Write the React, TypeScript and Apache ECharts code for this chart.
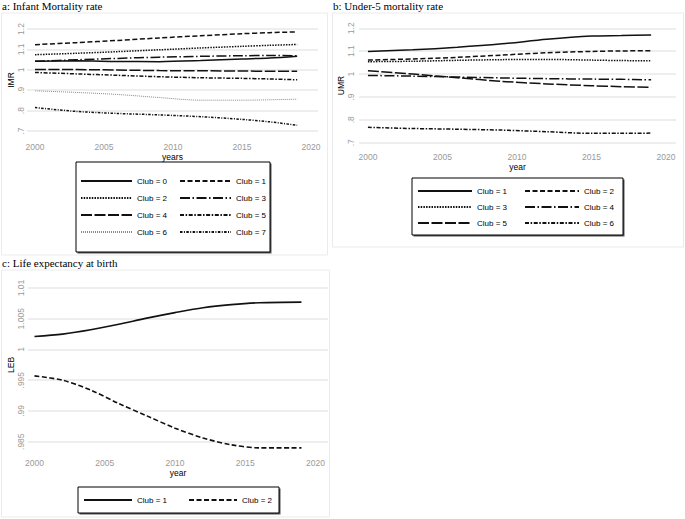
import React, { useEffect, useRef } from 'react';
import * as echarts from 'echarts';

// ---------- data ----------
const yearsA = [2000, 2003, 2006, 2009, 2012, 2015, 2017, 2019];
const imrClub0 = [1.042, 1.044, 1.041, 1.04, 1.045, 1.053, 1.058, 1.067];
const imrClub1 = [1.123, 1.133, 1.144, 1.156, 1.167, 1.177, 1.182, 1.186];
const imrClub2 = [1.074, 1.081, 1.089, 1.098, 1.107, 1.115, 1.12, 1.124];
const imrClub3 = [1.042, 1.049, 1.056, 1.062, 1.066, 1.069, 1.07, 1.069];
const imrClub4 = [1.002, 1.001, 0.999, 0.996, 0.995, 0.994, 0.993, 0.993];
const imrClub5 = [0.987, 0.98, 0.973, 0.966, 0.961, 0.958, 0.955, 0.951];
const imrClub6 = [0.897, 0.889, 0.879, 0.864, 0.851, 0.851, 0.853, 0.856];
const imrClub7 = [0.815, 0.796, 0.786, 0.779, 0.77, 0.757, 0.745, 0.728];

const yearsB = [2000, 2003, 2006, 2009, 2012, 2015, 2017, 2019];
const umrClub1 = [1.099, 1.106, 1.117, 1.132, 1.152, 1.166, 1.168, 1.171];
const umrClub2 = [1.061, 1.066, 1.073, 1.083, 1.093, 1.099, 1.101, 1.102];
const umrClub3 = [1.054, 1.056, 1.06, 1.063, 1.064, 1.061, 1.059, 1.058];
const umrClub4 = [0.994, 0.991, 0.987, 0.983, 0.98, 0.978, 0.977, 0.975];
const umrClub5 = [1.015, 1.0, 0.984, 0.968, 0.957, 0.949, 0.945, 0.942];
const umrClub6 = [0.767, 0.762, 0.759, 0.755, 0.748, 0.741, 0.741, 0.742];

const yearsC = [2000, 2002, 2004, 2006, 2008, 2010, 2012, 2014, 2016, 2019];
const lebClub1 = [1.0021, 1.0025, 1.0032, 1.0041, 1.0051, 1.006, 1.0068, 1.0073, 1.0076, 1.0077];
const lebClub2 = [0.9957, 0.995, 0.9934, 0.9912, 0.9892, 0.9872, 0.9856, 0.9845, 0.984, 0.984];

const xTicks = [2000, 2005, 2010, 2015, 2020];
const titles = ['a: Infant Mortality rate', 'b: Under-5 mortality rate', 'c: Life expectancy at birth'];
const yNames = ['IMR', 'UMR', 'LEB'];
const xNames = ['years', 'year', 'year'];

// ---------- styles ----------
const DASH: Record<string, any> = {
  solid: 'solid',
  dash: [5, 2.5],
  dot: [1.5, 1.2],
  longDashDot: [10, 2.5, 1.5, 2.5],
  longDash: [11, 2.5],
  dashDot: [4, 1.6, 1.5, 1.6],
  fineDot: [1, 1],
  shortDashDot: [2.5, 1.4, 1, 1.4],
};
const INK = '#111';
const SANS = '"Liberation Sans", Arial, sans-serif';
const SERIF = '"Liberation Serif", "Times New Roman", serif';

function line(panel: string, label: string, xs: number[], ys: number[], idx: number, dash: any, width = 1.5, color = INK) {
  return {
    type: 'line',
    name: panel + '|' + label,
    xAxisIndex: idx,
    yAxisIndex: idx,
    data: xs.map((x, i) => [x, ys[i]]),
    symbol: 'none',
    smooth: 0.3,
    clip: false,
    lineStyle: { color, width, type: dash },
    itemStyle: { color },
    z: 3,
  };
}

function fmtY(v: number) {
  let s = parseFloat(v.toFixed(4)).toString();
  if (s.startsWith('0.')) s = s.slice(1);
  return s;
}

function xAxis(idx: number, min: number, max: number, labelMargin: number, nameGap: number) {
  return {
    type: 'value',
    gridIndex: idx,
    min,
    max,
    name: xNames[idx],
    nameLocation: 'middle',
    nameGap,
    nameTextStyle: { fontFamily: SANS, fontSize: 8.5, color: '#000' },
    axisLine: { show: false },
    axisTick: { show: false },
    splitLine: { show: false },
    axisLabel: {
      customValues: xTicks,
      margin: labelMargin,
      fontFamily: SANS,
      fontSize: 8.5,
      color: '#9a9a9a',
      formatter: (v: number) => String(Math.round(v)),
    },
  };
}

function yAxis(idx: number, min: number, max: number, interval: number, labelMargin: number, nameGap: number) {
  return {
    type: 'value',
    gridIndex: idx,
    min,
    max,
    interval,
    name: yNames[idx],
    nameLocation: 'middle',
    nameGap,
    nameTextStyle: { fontFamily: SANS, fontSize: 8.5, color: '#000' },
    axisLine: { show: false },
    axisTick: { show: false },
    splitLine: { show: true, lineStyle: { color: '#e9e9e9', width: 1.5 } },
    axisLabel: {
      rotate: 90,
      margin: labelMargin,
      fontFamily: SANS,
      fontSize: 8.5,
      color: '#9a9a9a',
      formatter: fmtY,
    },
  };
}

function legendRow(panel: string, labels: string[], left: number, top: number, itemWidth: number, itemGap: number) {
  return {
    show: true,
    orient: 'horizontal',
    left,
    top,
    padding: 0,
    itemWidth,
    itemHeight: 10,
    itemGap,
    selectedMode: false,
    data: labels.map((l) => panel + '|' + l),
    formatter: (n: string) => n.split('|')[1],
    itemStyle: { opacity: 0 },
    textStyle: { fontFamily: SANS, fontSize: 8, color: '#000', lineHeight: 10 },
    z: 6,
  };
}

function legendBox(x: number, y: number, w: number, h: number) {
  return [
    { type: 'rect', z: 4, silent: true, shape: { x: x + 1.5, y: y + 1.5, width: w, height: h }, style: { fill: '#555' } },
    { type: 'rect', z: 5, silent: true, shape: { x, y, width: w, height: h }, style: { fill: '#fff', stroke: '#000', lineWidth: 1 } },
  ];
}

export default function App() {
  const ref = useRef<HTMLDivElement>(null);
  useEffect(() => {
    if (!ref.current) return;
    const chart = echarts.init(ref.current, null, { renderer: 'svg' });
    const option: any = {
      animation: false,
      backgroundColor: '#fff',
      grid: [
        { left: 27, top: 29, width: 291, height: 102 },
        { left: 359, top: 28.3, width: 317, height: 114.4 },
        { left: 28, top: 288, width: 300, height: 153.7 },
      ],
      xAxis: [
        xAxis(0, 1999.42, 2020.51, 11, 21),
        xAxis(1, 1999.4, 2020.67, 10, 20),
        xAxis(2, 1999.54, 2020.89, 17, 27),
      ],
      yAxis: [
        yAxis(0, 0.7, 1.2, 0.1, 2, 9.5),
        yAxis(1, 0.7, 1.2, 0.1, 4, 7),
        yAxis(2, 0.985, 1.01, 0.005, 3, 7),
      ],
      legend: [
        legendRow('a', ['Club = 0', 'Club = 1'], 80, 176, 51, 12),
        legendRow('a', ['Club = 2', 'Club = 3'], 80, 193, 51, 12),
        legendRow('a', ['Club = 4', 'Club = 5'], 80, 210, 51, 12),
        legendRow('a', ['Club = 6', 'Club = 7'], 80, 227, 51, 12),
        legendRow('b', ['Club = 1', 'Club = 2'], 417, 186, 54, 17),
        legendRow('b', ['Club = 3', 'Club = 4'], 417, 202, 54, 17),
        legendRow('b', ['Club = 5', 'Club = 6'], 417, 218, 54, 17),
        legendRow('c', ['Club = 1', 'Club = 2'], 83, 495, 48, 21),
      ],
      graphic: [
        { type: 'rect', z: 0, silent: true, shape: { x: 1.5, y: 13, width: 326, height: 242 }, style: { fill: 'none', stroke: '#ebebeb', lineWidth: 1 } },
        { type: 'rect', z: 0, silent: true, shape: { x: 332.5, y: 13, width: 351, height: 234 }, style: { fill: 'none', stroke: '#ebebeb', lineWidth: 1 } },
        { type: 'rect', z: 0, silent: true, shape: { x: 1.5, y: 270, width: 328, height: 247 }, style: { fill: 'none', stroke: '#ebebeb', lineWidth: 1 } },
        { type: 'text', z: 1, left: 2, top: 0, style: { text: titles[0], font: '11px ' + SERIF, fill: '#000' } },
        { type: 'text', z: 1, left: 333, top: 0, style: { text: titles[1], font: '11px ' + SERIF, fill: '#000' } },
        { type: 'text', z: 1, left: 2, top: 257, style: { text: titles[2], font: '11px ' + SERIF, fill: '#000' } },
        ...legendBox(76, 162, 194, 90),
        ...legendBox(412, 178, 211, 57),
        ...legendBox(78, 487, 201, 26),
      ],
      series: [
        line('a', 'Club = 0', yearsA, imrClub0, 0, DASH.solid),
        line('a', 'Club = 1', yearsA, imrClub1, 0, DASH.dash),
        line('a', 'Club = 2', yearsA, imrClub2, 0, DASH.dot),
        line('a', 'Club = 3', yearsA, imrClub3, 0, DASH.longDashDot),
        line('a', 'Club = 4', yearsA, imrClub4, 0, DASH.longDash),
        line('a', 'Club = 5', yearsA, imrClub5, 0, DASH.dashDot),
        line('a', 'Club = 6', yearsA, imrClub6, 0, DASH.fineDot, 1, '#8a8a8a'),
        line('a', 'Club = 7', yearsA, imrClub7, 0, DASH.shortDashDot),
        line('b', 'Club = 1', yearsB, umrClub1, 1, DASH.solid),
        line('b', 'Club = 2', yearsB, umrClub2, 1, DASH.dash),
        line('b', 'Club = 3', yearsB, umrClub3, 1, DASH.dot),
        line('b', 'Club = 4', yearsB, umrClub4, 1, DASH.longDashDot),
        line('b', 'Club = 5', yearsB, umrClub5, 1, DASH.longDash),
        line('b', 'Club = 6', yearsB, umrClub6, 1, DASH.dashDot),
        line('c', 'Club = 1', yearsC, lebClub1, 2, DASH.solid, 1.6),
        line('c', 'Club = 2', yearsC, lebClub2, 2, DASH.dash, 1.6),
      ],
    };
    chart.setOption(option);
    return () => chart.dispose();
  }, []);
  return <div ref={ref} style={{ position: 'absolute', left: 0, top: 0, width: 685, height: 519, background: '#fff' }} />;
}
